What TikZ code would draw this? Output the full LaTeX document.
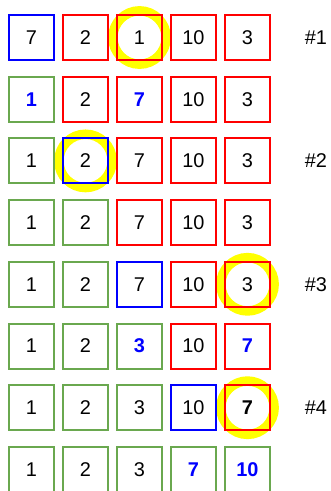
\documentclass[tikz,border=0pt]{standalone}
\usepackage{fontspec}
\setmainfont{Liberation Sans}
\usetikzlibrary{backgrounds}
\definecolor{okgreen}{HTML}{6AA84F}
\definecolor{pivred}{HTML}{FF0000}
\definecolor{curblue}{HTML}{0000FF}
\definecolor{hlyellow}{HTML}{FFFF00}

\begin{document}
\begin{tikzpicture}[
    x=0.03cm, y=-0.03cm,
    cell/.style={draw, line width=1.7pt, minimum size=1.35cm, inner sep=0pt,
      font=\fontsize{17}{20}\selectfont},
    gr/.style={cell, okgreen},
    rd/.style={cell, pivred},
    bl/.style={cell, curblue},
    tn/.style={text=black},
    tb/.style={text=curblue, font=\fontsize{17}{20}\selectfont\bfseries},
    tk/.style={text=black, font=\fontsize{17}{20}\selectfont\bfseries},
    ring/.style={draw=hlyellow, line width=8.1pt},
    passlbl/.style={font=\fontsize{17}{20}\selectfont, text=black},
  ]
    \useasboundingbox (0,0) rectangle (331,491);

    % ===== rows of the array, one per step =====
    \foreach \row [count=\r] in {
        {7/bl/tn, 2/rd/tn, 1/rd/tn, 10/rd/tn, 3/rd/tn},
        {1/gr/tb, 2/rd/tn, 7/rd/tb, 10/rd/tn, 3/rd/tn},
        {1/gr/tn, 2/bl/tn, 7/rd/tn, 10/rd/tn, 3/rd/tn},
        {1/gr/tn, 2/gr/tn, 7/rd/tn, 10/rd/tn, 3/rd/tn},
        {1/gr/tn, 2/gr/tn, 7/bl/tn, 10/rd/tn, 3/rd/tn},
        {1/gr/tn, 2/gr/tn, 3/gr/tb, 10/rd/tn, 7/rd/tb},
        {1/gr/tn, 2/gr/tn, 3/gr/tn, 10/bl/tn, 7/rd/tk},
        {1/gr/tn, 2/gr/tn, 3/gr/tn, 7/gr/tb, 10/gr/tb}}{
      \pgfmathsetmacro{\ry}{37.5 + (\r-1)*61.7}
      \foreach \v/\c/\f [count=\k] in \row {
        \pgfmathsetmacro{\kx}{31.5 + (\k-1)*54}
        \node[\c, \f] (c\r-\k) at (\kx, \ry) {\v};
      }
    }

    % ===== pass labels =====
    \node[passlbl] (pass1) at (316, 37.5) {\#1};
    \node[passlbl] (pass2) at (316, 160.9) {\#2};
    \node[passlbl] (pass3) at (316, 284.3) {\#3};
    \node[passlbl] (pass4) at (316, 407.7) {\#4};

    % ===== highlighted minimum (behind the boxes) =====
    \begin{scope}[on background layer]
      \draw[ring] (c1-3.center) circle[radius=0.8cm];
      \draw[ring] (c3-2.center) circle[radius=0.8cm];
      \draw[ring] (c5-5.center) circle[radius=0.8cm];
      \draw[ring] (c7-5.center) circle[radius=0.8cm];
    \end{scope}
\end{tikzpicture}
\end{document}
